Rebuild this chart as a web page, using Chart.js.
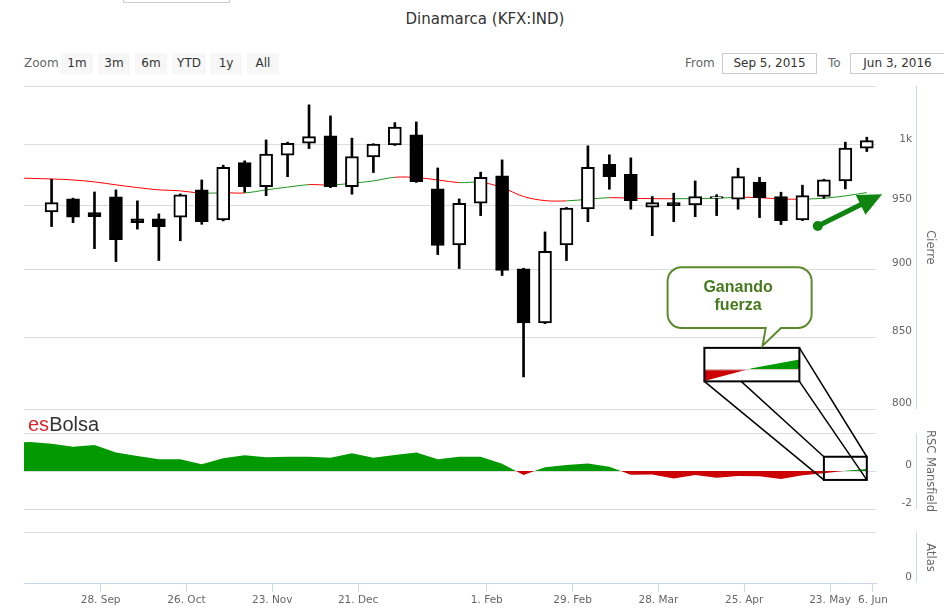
<!DOCTYPE html>
<html lang="es">
<head>
<meta charset="utf-8">
<title>Dinamarca (KFX:IND)</title>
<script src="https://cdn.jsdelivr.net/npm/chart.js@4.4.1/dist/chart.umd.min.js"></script>
<style>
  html, body { margin: 0; padding: 0; background: #fff; }
  body { width: 944px; height: 616px; position: relative; overflow: hidden; font-family: "DejaVu Sans", Verdana, sans-serif; }
  #grafico { position: absolute; left: 0; top: 0; }
  .resto { position: absolute; left: 123px; top: -20px; width: 105px; height: 21px; border: 1px solid #ccc; }
  .titulo { position: absolute; left: 0; top: 10px; width: 970px; text-align: center; font-size: 15px; line-height: 18px; color: #333; }
  .etq { position: absolute; top: 53px; line-height: 21px; font-size: 12px; color: #666; }
  .btn { position: absolute; top: 53px; width: 32px; height: 21px; line-height: 21px; background: #f7f7f7; color: #333; font-size: 12px; text-align: center; }
  .caja { position: absolute; top: 53px; height: 19px; line-height: 19px; border: 1px solid #ccc; font-size: 12px; color: #333; text-align: center; }
  .marca { position: absolute; left: 28px; top: 414px; font-family: "Liberation Sans", Arial, sans-serif; font-size: 20px; line-height: 20px; color: #333; }
  .marca span { color: #d9262b; }
</style>
</head>
<body>
<div class="resto"></div>
<div class="titulo">Dinamarca (KFX:IND)</div>
<div class="etq" style="left:24px">Zoom</div>
<div class="btn" style="left:61px">1m</div>
<div class="btn" style="left:98px">3m</div>
<div class="btn" style="left:135px">6m</div>
<div class="btn" style="left:172px;width:34px">YTD</div>
<div class="btn" style="left:210px">1y</div>
<div class="btn" style="left:247px">All</div>
<div class="etq" style="left:685px">From</div>
<div class="caja" style="left:722px;width:93px">Sep 5, 2015</div>
<div class="etq" style="left:828px">To</div>
<div class="caja" style="left:850px;width:93px">Jun 3, 2016</div>
<canvas id="grafico" width="944" height="616"></canvas>
<div class="marca"><span>es</span>Bolsa</div>

<script>
// Semanas (una vela por semana)
const semanas = [
  '2015-08-29', '2015-09-05', '2015-09-12', '2015-09-19', '2015-09-26', '2015-10-03',
  '2015-10-10', '2015-10-17', '2015-10-24', '2015-10-31', '2015-11-07', '2015-11-14',
  '2015-11-21', '2015-11-28', '2015-12-05', '2015-12-12', '2015-12-19', '2015-12-26',
  '2016-01-02', '2016-01-09', '2016-01-16', '2016-01-23', '2016-01-30', '2016-02-06',
  '2016-02-13', '2016-02-20', '2016-02-27', '2016-03-05', '2016-03-12', '2016-03-19',
  '2016-03-26', '2016-04-02', '2016-04-09', '2016-04-16', '2016-04-23', '2016-04-30',
  '2016-05-07', '2016-05-14', '2016-05-21', '2016-05-28', '2016-06-04'
];

// Velas (las dos primeras semanas quedan fuera del rango visible)
const aperturas = [
  null, null, 945.0, 955.4, 944.4, 957.0, 939.4, 939.4, 940.7, 962.7, 938.6, 985.1,
  965.4, 991.3, 1001.4, 1007.6, 965.4, 989.9, 1000.0, 1008.5, 963.5, 919.0, 951.9, 974.1,
  900.5, 860.3, 919.0, 947.3, 983.8, 975.5, 948.7, 952.4, 950.6, 955.9, 955.1, 969.0,
  957.3, 938.6, 957.3, 970.0, 997.2
];
const maximos = [
  null, null, 971.4, 956.0, 961.0, 962.7, 953.8, 943.4, 959.4, 970.8, 983.0, 986.6,
  1004.2, 1002.3, 1034.4, 1024.8, 1005.7, 1001.0, 1019.0, 1019.6, 980.7, 955.4, 977.2, 987.4,
  901.0, 929.1, 948.5, 999.2, 991.6, 989.1, 957.3, 960.0, 970.0, 958.8, 980.5, 973.0,
  960.8, 966.5, 971.4, 1002.3, 1006.5
];
const minimos = [
  null, null, 933.3, 936.4, 916.1, 906.1, 931.3, 906.9, 922.2, 935.1, 937.8, 960.8,
  958.0, 973.5, 996.9, 964.5, 959.2, 976.9, 999.5, 968.8, 911.5, 900.8, 942.0, 895.5,
  822.0, 859.8, 906.9, 937.2, 963.2, 947.1, 926.2, 937.2, 941.1, 942.0, 947.1, 940.4,
  934.9, 938.0, 955.9, 963.5, 994.4
];
const cierres = [
  null, null, 952.4, 940.7, 941.1, 923.0, 936.4, 933.3, 958.6, 937.2, 981.3, 965.4,
  992.2, 1001.4, 1007.0, 965.4, 990.2, 1000.6, 1015.1, 969.4, 918.5, 951.9, 973.0, 899.4,
  860.3, 913.9, 948.0, 981.3, 973.5, 954.0, 952.4, 950.0, 957.3, 957.3, 973.5, 956.4,
  938.0, 958.0, 970.8, 997.2, 1003.6
];

// Media movil del cierre
const mediaMovil = [
  972.5, 972.1, 971.6, 970.8, 969.2, 966.8, 964.6, 962.7, 961.9, 960.0, 960.4, 960.2,
  962.7, 964.9, 967.0, 966.6, 968.1, 970.0, 973.0, 972.8, 970.8, 968.6, 968.9, 964.6,
  957.3, 954.0, 953.8, 955.1, 956.4, 955.9, 955.6, 955.5, 955.7, 955.9, 956.7, 956.4,
  955.3, 955.2, 955.9, 957.8, 960.5
];

// Fuerza relativa de Mansfield
const rscMansfield = [
  1.45, 1.53, 1.44, 1.28, 1.37, 0.98, 0.79, 0.62, 0.62, 0.35, 0.67, 0.83,
  0.72, 0.75, 0.75, 0.70, 0.93, 0.70, 0.84, 0.98, 0.62, 0.75, 0.75, 0.38,
  -0.21, 0.20, 0.32, 0.40, 0.23, -0.20, -0.19, -0.39, -0.21, -0.35, -0.26, -0.28,
  -0.42, -0.22, -0.12, 0.01, 0.10
];

// Ejes
const ticksFechas = ['2015-09-28', '2015-10-26', '2015-11-23', '2015-12-21', '2016-02-01',
  '2016-02-29', '2016-03-28', '2016-04-25', '2016-05-23', '2016-06-06'];
const ticksEtiquetas = ['28. Sep', '26. Oct', '23. Nov', '21. Dec', '1. Feb',
  '29. Feb', '28. Mar', '25. Apr', '23. May', '6. Jun'];
const ticksPrecio = [800, 850, 900, 950, 1000];
const ticksRsc = [-2, 0, 2];
const ticksAtlas = [0, 1];

// Anotaciones (en fechas y valores del grafico)
const notaCaja = { desde: '2016-05-21', hasta: '2016-06-04', sup: 0.75, inf: -0.47 };
const notaLupa = { desde: '2016-04-12', hasta: '2016-05-13', sup: 842.4, inf: 818.9, cero: 0.64, aumento: 5.1 };
const notaGlobo = { desde: '2016-03-31', hasta: '2016-05-17', sup: 901.8, inf: 856.6,
  punta: ['2016-05-01', 843.9], base: ['2016-05-02', '2016-05-07'],
  centro: '2016-04-23', lineas: [['Ganando', 886.4], ['fuerza', 872.8]] };
const notaFlecha = { desde: ['2016-05-19', 933.8], hasta: ['2016-06-09', 959.2] };

const FUENTE = '"DejaVu Sans", Verdana, sans-serif';
const VERDE = '#009900';
const ROJO = '#cc0000';

/**
 * Dias transcurridos desde la primera vela visible
 */
function dia(fecha) {
  const [a, m, d] = fecha.split('-').map(Number);
  return (Date.UTC(a, m - 1, d) - Date.UTC(2015, 8, 12)) / 864e5;
}

// Cuerpos y mechas de las velas
const cuerpos = [];
const mechas = [];
semanas.forEach((s, i) => {
  if (aperturas[i] === null) return;
  cuerpos.push({ x: dia(s), y: [aperturas[i], cierres[i]], sube: cierres[i] >= aperturas[i] });
  mechas.push({ x: dia(s), y: [minimos[i], maximos[i]] });
});

// Lineas verticales de los ejes de la derecha
const lineasEje = {
  id: 'lineasEje',
  afterDraw(chart) {
    const ctx = chart.ctx;
    ctx.save();
    ctx.strokeStyle = '#ccd6eb';
    ctx.lineWidth = 1;
    ['yP', 'yR', 'yA'].forEach(id => {
      const s = chart.scales[id];
      const x = Math.round(s.left + 40) + 0.5;
      ctx.beginPath();
      ctx.moveTo(x, s.top);
      ctx.lineTo(x, s.bottom);
      ctx.stroke();
    });
    ctx.restore();
  }
};

// Caja, lupa, globo y flecha
const anotaciones = {
  id: 'anotaciones',
  afterDraw(chart) {
    const ctx = chart.ctx;
    const x = chart.scales.x, yP = chart.scales.yP, yR = chart.scales.yR;
    const px = f => x.getPixelForValue(dia(f));

    const src = { l: px(notaCaja.desde), r: px(notaCaja.hasta),
      t: yR.getPixelForValue(notaCaja.sup), b: yR.getPixelForValue(notaCaja.inf) };
    const dst = { l: px(notaLupa.desde), r: px(notaLupa.hasta),
      t: yP.getPixelForValue(notaLupa.sup), b: yP.getPixelForValue(notaLupa.inf) };

    ctx.save();

    // Lineas de proyeccion entre esquinas
    ctx.strokeStyle = '#000';
    ctx.lineWidth = 1.5;
    [['l', 't'], ['r', 't'], ['l', 'b'], ['r', 'b']].forEach(([h, v]) => {
      ctx.beginPath();
      ctx.moveTo(dst[h], dst[v]);
      ctx.lineTo(src[h], src[v]);
      ctx.stroke();
    });

    // Caja pequena
    ctx.lineWidth = 2;
    ctx.strokeRect(src.l, src.t, src.r - src.l, src.b - src.t);

    // Lupa
    const w = dst.r - dst.l, h = dst.b - dst.t;
    const ceroSrc = yR.getPixelForValue(0);
    const ceroDst = dst.t + h * notaLupa.cero;
    const kx = w / (src.r - src.l);
    const pts = semanas.map((s, i) => [
      dst.l + (px(s) - src.l) * kx,
      ceroDst + (yR.getPixelForValue(rscMansfield[i]) - ceroSrc) * notaLupa.aumento
    ]);
    const poligono = () => {
      ctx.beginPath();
      ctx.moveTo(pts[0][0], ceroDst);
      pts.forEach(p => ctx.lineTo(p[0], p[1]));
      ctx.lineTo(pts[pts.length - 1][0], ceroDst);
      ctx.closePath();
    };
    ctx.fillStyle = '#fff';
    ctx.fillRect(dst.l, dst.t, w, h);
    ctx.save();
    ctx.beginPath();
    ctx.rect(dst.l, dst.t, w, ceroDst - dst.t);
    ctx.clip();
    poligono();
    ctx.fillStyle = VERDE;
    ctx.fill();
    ctx.restore();
    ctx.save();
    ctx.beginPath();
    ctx.rect(dst.l, ceroDst, w, dst.b - ceroDst);
    ctx.clip();
    poligono();
    ctx.fillStyle = ROJO;
    ctx.fill();
    ctx.restore();
    ctx.strokeStyle = '#d8d8d8';
    ctx.lineWidth = 1;
    ctx.beginPath();
    ctx.moveTo(dst.l, ceroDst + 0.5);
    ctx.lineTo(dst.r, ceroDst + 0.5);
    ctx.stroke();
    ctx.strokeStyle = '#000';
    ctx.lineWidth = 2;
    ctx.strokeRect(dst.l, dst.t, w, h);

    // Globo
    const g = { l: px(notaGlobo.desde), r: px(notaGlobo.hasta),
      t: yP.getPixelForValue(notaGlobo.sup), b: yP.getPixelForValue(notaGlobo.inf) };
    const rad = 14;
    const baseL = px(notaGlobo.base[0]), baseR = px(notaGlobo.base[1]);
    const puntaX = px(notaGlobo.punta[0]), puntaY = yP.getPixelForValue(notaGlobo.punta[1]);
    ctx.beginPath();
    ctx.moveTo(g.l + rad, g.t);
    ctx.lineTo(g.r - rad, g.t);
    ctx.arcTo(g.r, g.t, g.r, g.t + rad, rad);
    ctx.lineTo(g.r, g.b - rad);
    ctx.arcTo(g.r, g.b, g.r - rad, g.b, rad);
    ctx.lineTo(baseR, g.b);
    ctx.lineTo(puntaX, puntaY);
    ctx.lineTo(baseL, g.b);
    ctx.lineTo(g.l + rad, g.b);
    ctx.arcTo(g.l, g.b, g.l, g.b - rad, rad);
    ctx.lineTo(g.l, g.t + rad);
    ctx.arcTo(g.l, g.t, g.l + rad, g.t, rad);
    ctx.closePath();
    ctx.fillStyle = '#fff';
    ctx.fill();
    ctx.strokeStyle = '#5b8a2d';
    ctx.lineWidth = 2;
    ctx.stroke();
    ctx.fillStyle = '#467a1e';
    ctx.font = 'bold 16px "Liberation Sans", Arial, sans-serif';
    ctx.textAlign = 'center';
    ctx.textBaseline = 'middle';
    notaGlobo.lineas.forEach(([texto, valor]) => {
      ctx.fillText(texto, px(notaGlobo.centro), yP.getPixelForValue(valor));
    });

    // Flecha
    const x0 = px(notaFlecha.desde[0]), y0 = yP.getPixelForValue(notaFlecha.desde[1]);
    const x1 = px(notaFlecha.hasta[0]), y1 = yP.getPixelForValue(notaFlecha.hasta[1]);
    const ang = Math.atan2(y1 - y0, x1 - x0);
    const largo = 24, ancho = 11;
    const bx = x1 - largo * Math.cos(ang), by = y1 - largo * Math.sin(ang);
    ctx.strokeStyle = ctx.fillStyle = '#0f850f';
    ctx.lineWidth = 5;
    ctx.lineCap = 'round';
    ctx.beginPath();
    ctx.moveTo(x0, y0);
    ctx.lineTo(bx, by);
    ctx.stroke();
    ctx.beginPath();
    ctx.arc(x0, y0, 5, 0, Math.PI * 2);
    ctx.fill();
    ctx.beginPath();
    ctx.moveTo(x1, y1);
    ctx.lineTo(bx + ancho * Math.sin(ang), by - ancho * Math.cos(ang));
    ctx.lineTo(bx - ancho * Math.sin(ang), by + ancho * Math.cos(ang));
    ctx.closePath();
    ctx.fill();

    ctx.restore();
  }
};

Chart.defaults.font.family = FUENTE;

const fuenteEje = { family: FUENTE, size: 10.5 };
const fuenteTitulo = { family: FUENTE, size: 11.5 };

// Ancho fijo de los ejes de la derecha y sin relleno vertical extra
const anchoEje = s => {
  s.width = 68;
  s.paddingTop = 0;
  s.paddingBottom = 0;
};

// Etiquetas alineadas a la derecha, a 36 px del borde del area
const ticksPanel = extra => Object.assign({
  mirror: true, crossAlign: 'near', padding: 36, labelOffset: -6, color: '#666', font: fuenteEje
}, extra);

// Escala de un panel apilado a la derecha
function panel(peso, extra) {
  return Object.assign({
    position: 'right',
    stack: 'paneles',
    stackWeight: peso,
    display: true,
    grid: { color: '#dcdcdc', drawTicks: false },
    border: { display: false },
    afterFit: anchoEje
  }, extra);
}

// Separador vacio entre paneles
function hueco(peso) {
  return panel(peso, {
    type: 'linear', min: 0, max: 1,
    grid: { display: false, drawTicks: false },
    ticks: { display: false }
  });
}

new Chart(document.getElementById('grafico'), {
  type: 'bar',
  data: {
    datasets: [
      {
        type: 'bar',
        yAxisID: 'yP',
        data: cuerpos,
        grouped: false,
        barThickness: 13,
        borderWidth: 2,
        borderColor: '#000',
        borderSkipped: false,
        backgroundColor: c => (c.raw && c.raw.sube ? '#fff' : '#000'),
        order: 0
      },
      {
        type: 'bar',
        yAxisID: 'yP',
        data: mechas,
        grouped: false,
        barThickness: 2,
        borderWidth: 0,
        backgroundColor: '#000',
        order: 1
      },
      {
        type: 'line',
        yAxisID: 'yP',
        data: semanas.map((s, i) => ({ x: dia(s), y: mediaMovil[i] })),
        borderWidth: 1,
        pointRadius: 0,
        tension: 0.35,
        segment: {
          borderColor: c => (c.p1.parsed.y >= c.p0.parsed.y ? '#1e961e' : '#ff0000')
        },
        order: 2
      },
      {
        type: 'line',
        yAxisID: 'yR',
        data: semanas.map((s, i) => ({ x: dia(s), y: rscMansfield[i] })),
        borderWidth: 0,
        borderColor: 'rgba(0,0,0,0)',
        pointRadius: 0,
        tension: 0,
        fill: { target: { value: 0 }, above: VERDE, below: ROJO },
        order: 3
      }
    ]
  },
  options: {
    responsive: false,
    animation: false,
    events: [],
    layout: { padding: { left: 24, top: 86, right: 0, bottom: 0 } },
    plugins: { legend: { display: false }, tooltip: { enabled: false } },
    scales: {
      x: {
        type: 'linear',
        min: dia('2015-09-03'),
        max: dia('2016-06-07'),
        offset: false,
        grid: { display: true, drawOnChartArea: false, drawTicks: true, tickLength: 9, color: '#ccd6eb', offset: false },
        border: { display: true, color: '#ccd6eb' },
        ticks: {
          autoSkip: false, maxRotation: 0, padding: 2, color: '#666', font: fuenteEje,
          callback: (v, i) => ticksEtiquetas[i]
        },
        afterBuildTicks: s => { s.ticks = ticksFechas.map(f => ({ value: dia(f) })); },
        afterFit: s => { s.height = 33; }
      },
      yP: panel(323, {
        type: 'logarithmic',
        min: 800,
        max: 1051,
        bounds: 'data',
        ticks: ticksPanel({
          callback: v => (v === 1000 ? '1k' : ticksPrecio.includes(v) ? String(v) : '')
        }),
        afterBuildTicks: s => { s.ticks = ticksPrecio.concat([s.max]).map(v => ({ value: v })); },
        title: { display: true, text: 'Cierre', color: '#666', font: fuenteTitulo, padding: { top: 7, bottom: 0 } }
      }),
      hueco1: hueco(24),
      yR: panel(76, {
        type: 'linear',
        min: -2,
        max: 2,
        ticks: ticksPanel({ callback: v => (v === 2 ? '' : String(v)) }),
        afterBuildTicks: s => { s.ticks = ticksRsc.map(v => ({ value: v })); },
        title: { display: true, text: 'RSC Mansfield', color: '#666', font: fuenteTitulo, padding: { top: 7, bottom: 0 } }
      }),
      hueco2: hueco(23),
      yA: panel(51, {
        type: 'linear',
        min: 0,
        max: 1,
        ticks: ticksPanel({ callback: v => (v === 0 ? '0' : '') }),
        afterBuildTicks: s => { s.ticks = ticksAtlas.map(v => ({ value: v })); },
        title: { display: true, text: 'Atlas', color: '#666', font: fuenteTitulo, padding: { top: 7, bottom: 0 } }
      })
    }
  },
  plugins: [lineasEje, anotaciones]
});
</script>
</body>
</html>
